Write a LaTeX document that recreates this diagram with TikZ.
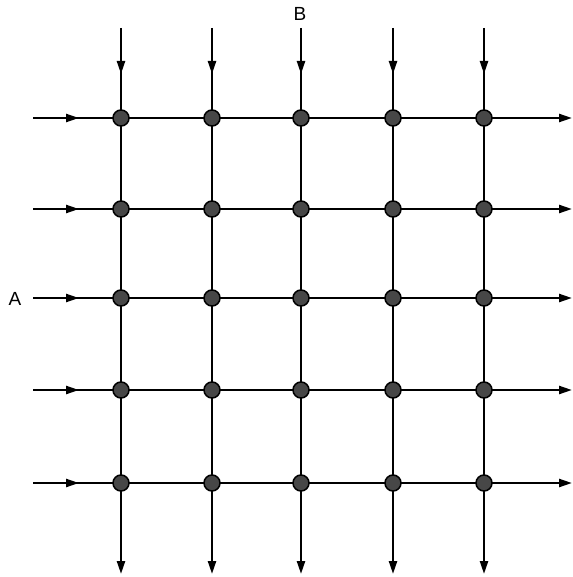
\documentclass[tikz,border=0pt]{standalone}
\usepackage{fontspec}
\setmainfont{Liberation Sans}
\usetikzlibrary{arrows.meta,decorations.markings}
\begin{document}
\begin{tikzpicture}[x=1pt,y=-1pt,
  wire/.style={line width=2.3pt,black},
  tip/.style={-{Triangle[length=13pt,width=8pt]}},
  midtip/.style={postaction={decorate},decoration={markings,mark=at position 46pt with {\arrow{Triangle[length=13pt,width=8pt]}}}},
  junction/.style={circle,draw=black,line width=1.5pt,fill=black!72,minimum size=16pt,inner sep=0pt},
  lbl/.style={font=\fontsize{19}{19}\selectfont,inner sep=0pt}]
\useasboundingbox (0,0) rectangle (572,577);
\def\xs{{121,212,301,393,484}}
\def\ys{{118,209,298,390,483}}
% coordinates of start/end points
\foreach \i in {0,...,4}{
  \pgfmathsetmacro{\yy}{\ys[\i]}
  \pgfmathsetmacro{\xx}{\xs[\i]}
  \coordinate (L\i) at (33,\yy);
  \coordinate (R\i) at (572,\yy);
  \coordinate (T\i) at (\xx,28);
  \coordinate (B\i) at (\xx,574);
}
% junction points
\foreach \i in {0,...,4}{
  \foreach \j in {0,...,4}{
    \pgfmathsetmacro{\xx}{\xs[\j]}
    \pgfmathsetmacro{\yy}{\ys[\i]}
    \coordinate (c\i\j) at (\xx,\yy);
  }
}
% rows
\foreach \i in {0,...,4}{
  \draw[wire,midtip] (L\i) -- (c\i0);
  \draw[wire] (c\i0) -- (c\i1) -- (c\i2) -- (c\i3) -- (c\i4);
  \draw[wire,tip] (c\i4) -- (R\i);
}
% columns
\foreach \j in {0,...,4}{
  \draw[wire,midtip] (T\j) -- (c0\j);
  \draw[wire] (c0\j) -- (c1\j) -- (c2\j) -- (c3\j) -- (c4\j);
  \draw[wire,tip] (c4\j) -- (B\j);
}
\foreach \i in {0,...,4}{
  \foreach \j in {0,...,4}{
    \node[junction] (n\i\j) at (c\i\j) {};
  }
}
\node[lbl] (A) at (15,299) {A};
\node[lbl] (Bl) at (300,14) {B};
\end{tikzpicture}
\end{document}
